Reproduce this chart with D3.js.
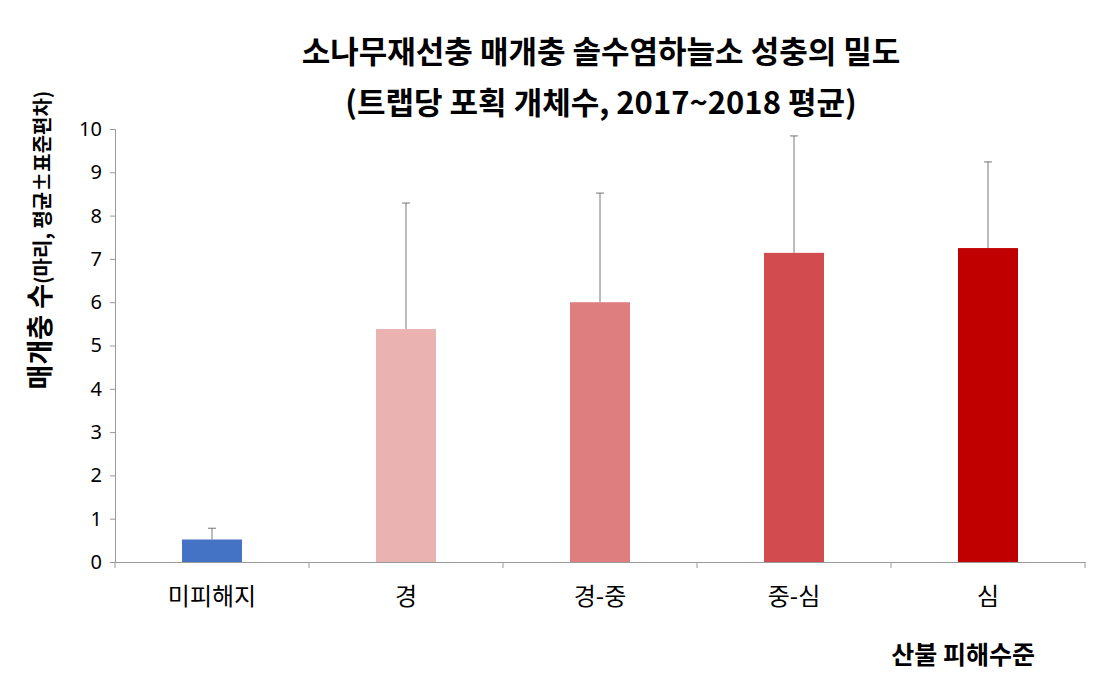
<!DOCTYPE html>
<html><head><meta charset="utf-8">
<script src="https://cdn.jsdelivr.net/npm/d3@7"></script>
<style>body{margin:0;background:#fff}text{font-family:"Noto Sans CJK KR","Noto Sans",sans-serif}</style>
</head><body><svg id="c" width="1095" height="684"></svg>
<script>
const categories=["미피해지","경","경-중","중-심","심"];
const means=[0.52,5.38,6.0,7.14,7.25];
const errTops=[0.78,8.29,8.52,9.84,9.24];
const colors=["#4472C4","#EBB2B2","#DE7E7E","#D24B4E","#C00000"];
const yTicks=[0,1,2,3,4,5,6,7,8,9,10];
const svg=d3.select("#c");
const x=d3.scaleBand().domain(categories).range([115,1085]);
const y=d3.scaleLinear().domain([0,10]).range([562,129]);
const ya=svg.append("g").attr("transform","translate(115,0)").call(d3.axisLeft(y).tickValues(yTicks).tickSize(5).tickPadding(8));
ya.selectAll("text").attr("font-size",20).attr("fill","#000").style("font-family","'Noto Sans',sans-serif");
ya.selectAll("line,path").attr("stroke","#999");
const xa=svg.append("g").attr("transform","translate(0,562)").call(d3.axisBottom(x).tickSize(0).tickPadding(26));
xa.select("path").attr("stroke","#999");
xa.selectAll("text").attr("font-size",24).attr("fill","#000");
svg.append("g").selectAll("line").data(d3.range(categories.length+1)).join("line")
 .attr("x1",i=>115+i*x.step()).attr("x2",i=>115+i*x.step()).attr("y1",562).attr("y2",568).attr("stroke","#999");
const bw=60;
svg.append("g").selectAll("line").data(categories).join("line")
 .attr("x1",(d,i)=>x(d)+x.bandwidth()/2).attr("x2",(d,i)=>x(d)+x.bandwidth()/2)
 .attr("y1",(d,i)=>y(means[i])).attr("y2",(d,i)=>y(errTops[i])).attr("stroke","#555").attr("stroke-width",0.8);
svg.append("g").selectAll("line").data(categories).join("line")
 .attr("x1",(d,i)=>x(d)+x.bandwidth()/2-4).attr("x2",(d,i)=>x(d)+x.bandwidth()/2+4)
 .attr("y1",(d,i)=>y(errTops[i])).attr("y2",(d,i)=>y(errTops[i])).attr("stroke","#555").attr("stroke-width",0.8);
svg.append("g").selectAll("rect").data(categories).join("rect")
 .attr("x",d=>x(d)+x.bandwidth()/2-bw/2).attr("width",bw)
 .attr("y",(d,i)=>y(means[i])).attr("height",(d,i)=>y(0)-y(means[i])).attr("fill",(d,i)=>colors[i]);
svg.append("text").attr("x",601).attr("y",63).attr("text-anchor","middle").attr("font-size",31).attr("font-weight","bold").text("소나무재선충 매개충 솔수염하늘소 성충의 밀도");
svg.append("text").attr("x",601).attr("y",114).attr("text-anchor","middle").attr("font-size",31).attr("font-weight","bold").text("(트랩당 포획 개체수, 2017~2018 평균)");
const yl=svg.append("text").attr("transform","translate(50,240) rotate(-90)").attr("text-anchor","middle").attr("font-weight","bold");
yl.append("tspan").attr("font-size",27).text("매개충 수");
yl.append("tspan").attr("font-size",20).text("(마리, 평균±표준편차)");
svg.append("text").attr("x",1035).attr("y",664).attr("text-anchor","end").attr("font-size",25).attr("font-weight","bold").text("산불 피해수준");
</script></body></html>
